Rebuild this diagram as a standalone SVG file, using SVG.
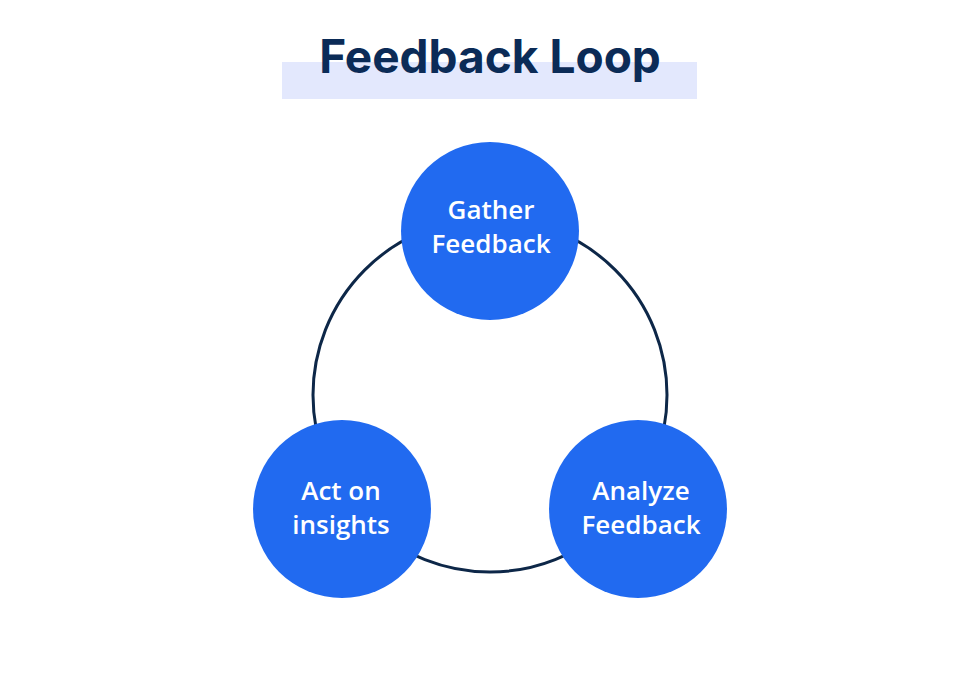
<svg xmlns="http://www.w3.org/2000/svg" width="980" height="677" viewBox="0 0 980 677">
<style>
.node{fill:#216af0}
.lbl{font-family:"Open Sans","Liberation Sans",sans-serif;font-weight:600;font-size:26px;fill:#ffffff;text-anchor:middle}
.title{font-family:Inter,"Liberation Sans",sans-serif;font-weight:700;font-size:46px;fill:#0b2b57;text-anchor:middle}
</style>
<rect width="980" height="677" fill="#ffffff"/>
<g id="title">
<rect x="282" y="62" width="415" height="37" fill="#e3e8fd"/>
<text class="title" x="490" y="73">Feedback Loop</text>
</g>
<g id="connectors">
<circle cx="490" cy="395" r="177" fill="none" stroke="#0d2748" stroke-width="3"/>
</g>
<g id="gather">
<circle class="node" cx="490" cy="231" r="89"/>
<text class="lbl" x="491" y="219">Gather</text>
<text class="lbl" x="491" y="253">Feedback</text>
</g>
<g id="act">
<circle class="node" cx="342" cy="509" r="89"/>
<text class="lbl" x="341" y="500">Act on</text>
<text class="lbl" x="341" y="534">insights</text>
</g>
<g id="analyze">
<circle class="node" cx="638" cy="509" r="89"/>
<text class="lbl" x="641" y="500">Analyze</text>
<text class="lbl" x="641" y="534">Feedback</text>
</g>
</svg>
